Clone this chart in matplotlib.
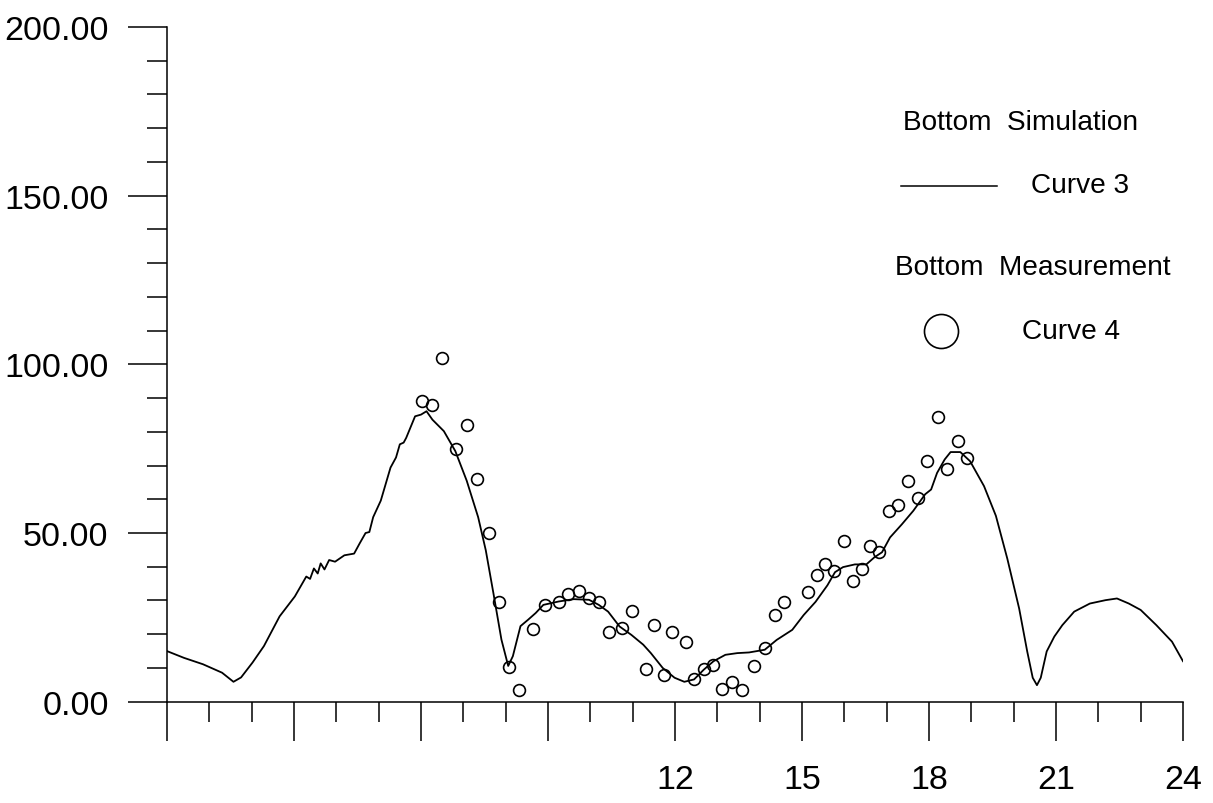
import matplotlib.pyplot as plt
from matplotlib.lines import Line2D
from matplotlib.ticker import FixedLocator, FixedFormatter, FormatStrFormatter, MultipleLocator

plt.rcParams['font.family'] = ['Liberation Sans', 'DejaVu Sans']

# Bottom simulation (Curve 3), hour of day vs value
sim_x = [0.0, 0.4, 0.85, 1.3, 1.57, 1.75, 2.02, 2.29, 2.66, 3.02,
         3.29, 3.38, 3.47, 3.56, 3.63, 3.72, 3.83, 3.97, 4.19, 4.42,
         4.55, 4.69, 4.78, 4.87, 5.05, 5.28, 5.41, 5.5, 5.59, 5.65,
         5.86, 6.0, 6.13, 6.27, 6.54, 6.81, 7.08, 7.35, 7.53, 7.71,
         7.9, 8.06, 8.17, 8.35, 8.53, 8.71, 8.89, 9.25, 9.61, 9.97,
         10.2, 10.42, 10.69, 10.97, 11.25, 11.43, 11.71, 11.99, 12.22, 12.45,
         12.68, 12.91, 13.19, 13.47, 13.75, 14.12, 14.4, 14.77, 15.04, 15.32,
         15.6, 15.78, 15.97, 16.25, 16.52, 16.71, 16.89, 17.08, 17.36, 17.63,
         17.91, 18.05, 18.19, 18.37, 18.51, 18.74, 18.97, 19.3, 19.58, 19.85,
         20.13, 20.32, 20.45, 20.55, 20.64, 20.78, 20.96, 21.15, 21.43, 21.8,
         22.17, 22.44, 22.72, 23.0, 23.37, 23.74, 24.0]
sim_y = [15.0, 13.0, 11.1, 8.6, 5.9, 7.2, 11.6, 16.5, 25.3, 31.2,
         37.1, 36.4, 39.5, 38.0, 41.0, 39.2, 42.0, 41.5, 43.4, 43.9,
         46.9, 50.0, 50.3, 54.7, 59.6, 69.4, 72.4, 76.3, 76.8, 78.2,
         84.6, 85.1, 86.1, 83.6, 80.2, 74.3, 65.5, 54.7, 44.9, 32.2,
         18.4, 10.6, 13.5, 22.4, 24.3, 26.3, 28.7, 29.7, 30.4, 30.2,
         28.7, 26.7, 22.3, 19.8, 16.9, 14.4, 10.0, 7.1, 5.9, 6.6,
         9.5, 12.0, 13.9, 14.4, 14.6, 15.4, 18.3, 21.3, 25.7, 29.6,
         34.5, 38.4, 39.9, 40.7, 40.7, 42.8, 44.3, 48.7, 52.6, 56.6,
         61.5, 62.9, 67.8, 71.8, 74.0, 74.0, 71.3, 63.9, 55.1, 42.4,
         27.6, 14.9, 7.1, 4.9, 7.1, 14.9, 19.3, 22.7, 26.7, 29.1,
         30.1, 30.6, 29.1, 27.2, 22.7, 17.8, 12.0]

# Bottom measurement (Curve 4)
meas_x = [6.02, 6.27, 6.5, 6.83, 7.08, 7.32, 7.6, 7.84, 8.07, 8.32,
          8.65, 8.93, 9.27, 9.48, 9.74, 9.98, 10.2, 10.45, 10.74, 10.99,
          11.32, 11.51, 11.74, 11.94, 12.27, 12.45, 12.68, 12.9, 13.12, 13.35,
          13.59, 13.87, 14.12, 14.37, 14.58, 15.14, 15.35, 15.55, 15.76, 16.0,
          16.21, 16.41, 16.61, 16.82, 17.06, 17.26, 17.51, 17.74, 17.96, 18.21,
          18.42, 18.68, 18.9]
meas_y = [89.0, 88.0, 101.8, 75.0, 82.0, 65.9, 49.9, 29.7, 10.4, 3.5,
          21.5, 28.8, 29.7, 31.8, 32.7, 30.7, 29.5, 20.7, 21.8, 26.9,
          9.8, 22.7, 8.0, 20.8, 17.8, 6.6, 9.7, 10.8, 3.8, 5.8,
          3.6, 10.7, 15.9, 25.7, 29.6, 32.5, 37.5, 40.7, 38.6, 47.5,
          35.7, 39.4, 46.3, 44.5, 56.4, 58.2, 65.4, 60.3, 71.3, 84.3,
          69.1, 77.2, 72.3]

x_ticks = [0, 3, 6, 9, 12, 15, 18, 21, 24]
x_labels = ['', '', '', '', '12', '15', '18', '21', '24']

W, H = 1213, 804
fig = plt.figure(figsize=(W / 100, H / 100), dpi=100)
ax = fig.add_axes([167 / W, 1 - 702.7 / H, (1183 - 167) / W, (702.7 - 28) / H])

ax.plot(sim_x, sim_y, color='black', linewidth=1.3)
ax.plot(meas_x, meas_y, 'o', markersize=8.5, markerfacecolor='none',
        markeredgecolor='black', markeredgewidth=1.2, clip_on=False)

ax.set_xlim(0, 24)
ax.set_ylim(0, 200)
for s in ['top', 'right']:
    ax.spines[s].set_visible(False)
for s in ['left', 'bottom']:
    ax.spines[s].set_linewidth(1.1)

ax.xaxis.set_major_locator(FixedLocator(x_ticks))
ax.xaxis.set_major_formatter(FixedFormatter(x_labels))
ax.xaxis.set_minor_locator(MultipleLocator(1))
ax.yaxis.set_major_locator(MultipleLocator(50))
ax.yaxis.set_major_formatter(FormatStrFormatter('%.2f'))
ax.yaxis.set_minor_locator(MultipleLocator(10))

ax.tick_params(which='major', direction='out', length=28, width=1.1, labelsize=24.5)
ax.tick_params(which='minor', direction='out', length=14.5, width=1.1)
ax.tick_params(axis='x', which='major', pad=17)
ax.tick_params(axis='y', which='major', pad=14)

# legend drawn as free text, like the original
lfs = 20.2
fig.text(903 / W, 1 - 123 / H, 'Bottom  Simulation', fontsize=lfs, va='center')
fig.add_artist(Line2D([901 / W, 997 / W], [1 - 187 / H, 1 - 187 / H],
                      color='black', linewidth=1.1))
fig.text(1031 / W, 1 - 186 / H, 'Curve 3', fontsize=lfs, va='center')
fig.text(895 / W, 1 - 268 / H, 'Bottom  Measurement', fontsize=lfs, va='center')
fig.add_artist(Line2D([941 / W], [1 - 332 / H], marker='o', markersize=24.5,
                      markerfacecolor='none', markeredgecolor='black',
                      markeredgewidth=1.2, linestyle='none'))
fig.text(1022 / W, 1 - 332 / H, 'Curve 4', fontsize=lfs, va='center')

fig.savefig('out.png', dpi=100)
